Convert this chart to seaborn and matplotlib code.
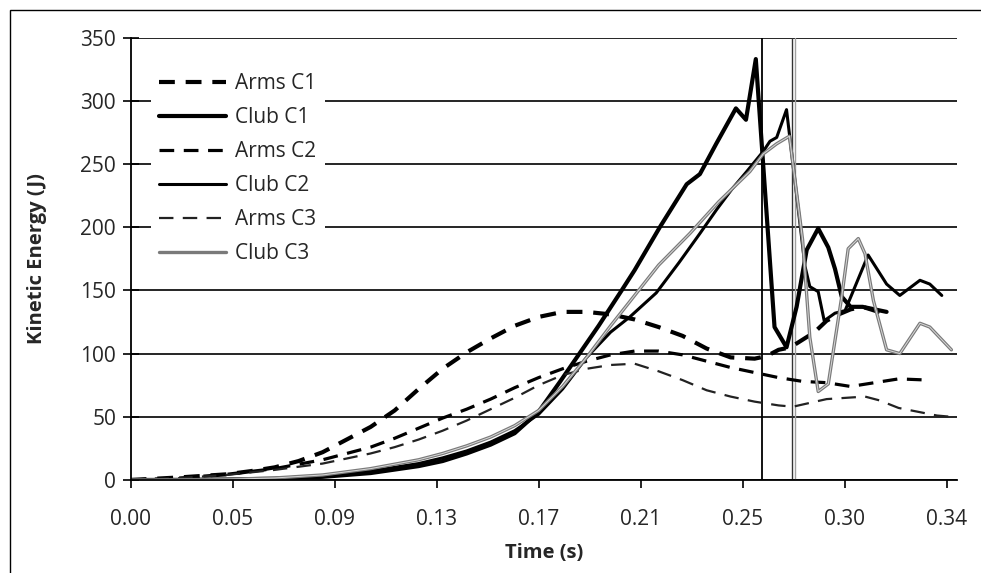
import numpy as np
import pandas as pd
import matplotlib
matplotlib.use("Agg")
import matplotlib.pyplot as plt
import seaborn as sns

# kinetic energy (J) vs time (s)
t_arms1 = [0, 0.02, 0.04, 0.05, 0.06, 0.07, 0.08, 0.09, 0.10, 0.11, 0.12, 0.13, 0.14, 0.15, 0.16,
           0.17, 0.18, 0.19, 0.20, 0.21, 0.22, 0.23, 0.24, 0.25, 0.26, 0.265, 0.27, 0.275, 0.28,
           0.285, 0.29, 0.295, 0.30, 0.305, 0.31, 0.315]
ke_arms1 = [0, 2, 4.5, 7, 10, 15, 22, 32, 42, 55, 72, 88, 101, 112, 122,
            129, 133, 133, 131, 127, 121, 114, 104, 97, 96, 98, 103, 105, 111,
            117, 126, 131, 135, 137, 134, 131]

t_club1 = [0, 0.02, 0.04, 0.06, 0.08, 0.10, 0.12, 0.13, 0.14, 0.15, 0.16, 0.17, 0.179, 0.187,
           0.195, 0.2046, 0.21, 0.2205, 0.2317, 0.2372, 0.244, 0.2522, 0.2564, 0.2605, 0.2683,
           0.2733, 0.2775, 0.2817, 0.2865, 0.2907, 0.2935, 0.2963, 0.300, 0.305, 0.310, 0.315]
ke_club1 = [0, 0.1, 0.4, 1.0, 2.5, 5.5, 11, 15, 21, 28, 37, 54, 78, 100,
            122, 150, 166, 200, 234, 242, 266, 294, 285, 333, 121,
            105, 137, 182, 199, 184, 167, 145, 137, 137, 135, 133]

t_arms2 = [0, 0.02, 0.04, 0.06, 0.08, 0.09, 0.10, 0.11, 0.12, 0.13, 0.14, 0.15, 0.16, 0.17,
           0.18, 0.19, 0.20, 0.21, 0.22, 0.23, 0.24, 0.25, 0.26, 0.27, 0.28, 0.29, 0.30, 0.31,
           0.32, 0.333]
ke_arms2 = [0, 1.5, 4.5, 9, 16, 21, 26, 33, 41, 49, 56, 64, 73, 81,
            88, 94, 99, 102, 102, 99, 94, 89, 85, 81, 78, 77, 74, 77,
            80, 79]

t_club2 = [0, 0.02, 0.04, 0.06, 0.08, 0.10, 0.12, 0.13, 0.14, 0.15, 0.16, 0.17, 0.18, 0.19,
           0.20, 0.208, 0.219, 0.2285, 0.2372, 0.2442, 0.2505, 0.2567, 0.2636, 0.2664, 0.2692,
           0.2733, 0.2810, 0.2830, 0.2865, 0.2890, 0.2935, 0.2977, 0.3060, 0.3073, 0.3150,
           0.3205, 0.3289, 0.3330, 0.3380]
ke_club2 = [0, 0.1, 0.4, 1.2, 3, 7, 13, 17.5, 23, 30, 39, 52, 72, 97,
            117, 129, 148, 172, 195, 214, 230, 244, 260, 268, 271,
            293, 169, 153, 149, 126, 132, 134, 172, 178, 155,
            146, 158, 155, 146]

t_arms3 = [0, 0.02, 0.04, 0.06, 0.08, 0.09, 0.10, 0.11, 0.12, 0.13, 0.14, 0.15, 0.16, 0.17,
           0.18, 0.19, 0.20, 0.21, 0.22, 0.23, 0.24, 0.25, 0.26, 0.27, 0.276, 0.283, 0.29,
           0.298, 0.306, 0.312, 0.32, 0.328, 0.336, 0.342]
ke_arms3 = [0, 1.5, 4, 8, 13, 17, 21, 26, 32, 39, 47, 56, 65, 75,
            83, 88, 91, 92, 86, 79, 71, 66, 62, 59, 58, 61, 64,
            65, 66, 63, 57, 54, 51, 50]

t_club3 = [0, 0.02, 0.04, 0.06, 0.08, 0.10, 0.12, 0.13, 0.14, 0.15, 0.16, 0.17, 0.18, 0.19,
           0.20, 0.21, 0.22, 0.233, 0.245, 0.258, 0.2636, 0.2692, 0.2745, 0.2800, 0.2830,
           0.2865, 0.2907, 0.2963, 0.2990, 0.3032, 0.3060, 0.3095, 0.3150, 0.3205, 0.3289,
           0.3330, 0.3420]
ke_club3 = [0, 0.2, 0.6, 1.6, 4, 9, 16, 21, 27, 34, 43, 55, 74, 97,
            122, 146, 170, 195, 220, 244, 258, 266, 272, 190, 113,
            70, 76, 145, 183, 191, 179, 142, 103, 100, 124,
            121, 103]

impact_c1 = 0.263
impact_c3 = [0.2757, 0.2770]

xtick_labels = ["0.00", "0.05", "0.09", "0.13", "0.17", "0.21", "0.25", "0.30", "0.34"]
yticks = [0, 50, 100, 150, 200, 250, 300, 350]

series = [
    ("Arms C1", t_arms1, ke_arms1, "black", 3.0, (0, (3.8, 2.6))),
    ("Club C1", t_club1, ke_club1, "black", 3.0, "-"),
    ("Arms C2", t_arms2, ke_arms2, "black", 2.3, (0, (4.6, 3.0))),
    ("Club C2", t_club2, ke_club2, "black", 2.2, "-"),
    ("Arms C3", t_arms3, ke_arms3, "#222222", 1.6, (0, (6.5, 4.2))),
    ("Club C3", t_club3, ke_club3, "#7a7a7a", 2.4, "-"),
]

sns.set_style("white")
plt.rcParams["font.family"] = ["Open Sans", "DejaVu Sans"]

fig = plt.figure(figsize=(9.81, 5.73), dpi=100)
ax = fig.add_axes([0.1332, 0.1623, 0.8420, 0.7721])

for name, t, ke, col, lw, ls in series:
    df = pd.DataFrame({"t": t, "ke": ke})
    sns.lineplot(data=df, x="t", y="ke", ax=ax, color=col, linewidth=lw,
                 linestyle=ls, estimator=None, label=name)

# pale core of the grey club C3 trace (looks hollow in the scan)
sns.lineplot(x=t_club3, y=ke_club3, ax=ax, color="#d8d8d8", linewidth=0.7,
             estimator=None, legend=False)

ax.axvline(impact_c1, color="black", lw=1.3, zorder=1)
ax.axvline(impact_c3[0], color="#333333", lw=1.0, zorder=1)
ax.axvline(impact_c3[1], color="#a0a0a0", lw=1.0, zorder=1)

ax.set_xlim(0, 0.3442)
ax.set_ylim(0, 350)
ax.set_xticks(np.linspace(0, 0.34, len(xtick_labels)))
ax.set_xticklabels(xtick_labels)
ax.set_yticks(yticks)
ax.yaxis.grid(True, color="black", lw=1.2)
ax.set_axisbelow(True)

for s in ["top", "right"]:
    ax.spines[s].set_visible(False)
for s in ["left", "bottom"]:
    ax.spines[s].set_color("black")
    ax.spines[s].set_linewidth(1.3)

ax.tick_params(axis="y", direction="inout", length=11, width=1.2, color="black",
               labelsize=15, pad=5, left=True)
ax.tick_params(axis="x", direction="out", length=6, width=1.2, color="black",
               labelsize=15, pad=15, bottom=True)

ax.set_xlabel("Time (s)", fontsize=14.5, fontweight="bold", labelpad=9)
ax.set_ylabel("Kinetic Energy (J)", fontsize=14.5, fontweight="bold", labelpad=24)

leg = ax.legend(loc="upper left", bbox_to_anchor=(0.0246, 0.938), frameon=True, fontsize=15,
                handlelength=3.2, handletextpad=0.45, labelspacing=0.62, borderaxespad=0,
                borderpad=0.4, fancybox=False)
leg.get_frame().set_facecolor("white")
leg.get_frame().set_edgecolor("none")
leg.get_frame().set_alpha(1.0)

# scan frame (top and left edges of the chart area)
fig.add_artist(plt.Rectangle((10 / 981, -0.1), 1.2, 1 - 10 / 573 + 0.1,
                             transform=fig.transFigure, fill=False, ec="black", lw=1.0))

fig.savefig("out.png", dpi=100)
